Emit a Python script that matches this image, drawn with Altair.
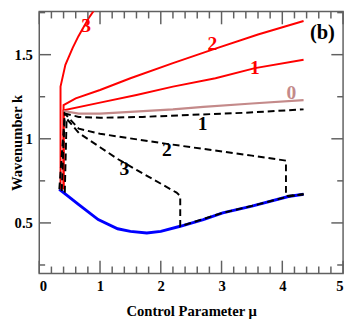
import altair as alt
import pandas as pd

# ---- data ----
blue_x = [0.33, 0.40, 0.645, 0.97, 1.29, 1.50, 1.77, 2.00, 2.32, 2.70, 3.02, 3.50, 4.10, 4.35]
blue_k = [0.70, 0.68, 0.61, 0.52, 0.465, 0.45, 0.44, 0.45, 0.48, 0.52, 0.56, 0.60, 0.657, 0.67]

red3_x = [0.35, 0.35, 0.43, 0.55, 0.645, 0.81, 0.97, 1.10]
red3_k = [0.70, 1.31, 1.44, 1.54, 1.61, 1.715, 1.80, 1.87]
red2_x = [0.40, 0.40, 0.60, 1.00, 1.50, 2.20, 2.85, 3.60, 4.35]
red2_k = [0.70, 1.20, 1.24, 1.29, 1.36, 1.45, 1.53, 1.62, 1.70]
red1_x = [0.40, 0.40, 1.00, 1.60, 2.20, 2.90, 3.55, 4.35]
red1_k = [0.70, 1.17, 1.215, 1.26, 1.31, 1.36, 1.42, 1.47]
brown0_x = [0.40, 0.65, 1.00, 1.50, 2.20, 2.70, 3.50, 4.35]
brown0_k = [1.165, 1.15, 1.15, 1.16, 1.175, 1.19, 1.21, 1.23]

dash1_x = [0.33, 0.42, 0.65, 1.00, 1.70, 2.70, 3.40, 4.35]
dash1_k = [0.70, 1.15, 1.13, 1.125, 1.13, 1.145, 1.155, 1.175]
dash2_x = [0.37, 0.42, 0.65, 1.00, 1.45, 2.10, 2.70, 3.50, 4.06, 4.06, 4.35]
dash2_k = [0.69, 1.15, 1.06, 1.03, 1.005, 0.97, 0.94, 0.90, 0.87, 0.66, 0.67]
dash3_x = [0.42, 0.45, 0.65, 1.00, 1.29, 1.60, 1.89, 2.26, 2.32, 2.32, 3.02, 3.60, 4.10, 4.35]
dash3_k = [0.68, 1.12, 1.035, 0.95, 0.88, 0.815, 0.756, 0.68, 0.66, 0.48, 0.56, 0.61, 0.657, 0.67]

label_text = ["3", "2", "1", "0", "1", "2", "3"]
label_x = [0.77, 2.85, 3.55, 4.15, 2.69, 2.10, 1.40]
label_k = [1.67, 1.56, 1.42, 1.27, 1.09, 0.93, 0.82]
label_color = ["#ff0000", "#ff0000", "#ff0000", "#c48a8a", "#000000", "#000000", "#000000"]
panel_text = ["(b)"]
panel_x = [4.66]
panel_k = [1.63]

x_major = [0, 1, 2, 3, 4, 5]
x_minor = [0.2, 0.4, 0.6, 0.8, 1.2, 1.4, 1.6, 1.8, 2.2, 2.4, 2.6, 2.8,
           3.2, 3.4, 3.6, 3.8, 4.2, 4.4, 4.6, 4.8]
y_major = [0.5, 1.0, 1.5]
y_minor = [0.25, 0.75, 1.25, 1.75]

W, H = 311, 268
FONT = "Liberation Serif"

xs = alt.Scale(domain=[0, 5], nice=False, zero=False)
ys = alt.Scale(domain=[0.2, 1.756], nice=False, zero=False)


def series(xv, kv):
    return pd.DataFrame({"x": xv, "k": kv, "i": list(range(len(xv)))})


def line(df, color, width, dash=None):
    kw = dict(color=color, strokeWidth=width, clip=True)
    if dash:
        kw["strokeDash"] = dash
    return alt.Chart(df).mark_line(**kw).encode(
        x=alt.X("x:Q", scale=xs,
                axis=alt.Axis(title="Control Parameter μ", values=x_major, format="d",
                              ticks=False, domain=False, grid=False, labelPadding=6,
                              labelFont=FONT, labelFontSize=15, labelFontWeight="bold",
                              labelColor="black", titleFont=FONT, titleFontSize=15,
                              titleFontWeight="bold", titleColor="black", titlePadding=10)),
        y=alt.Y("k:Q", scale=ys,
                axis=alt.Axis(title="Wavenumber k", values=y_major, format="~g",
                              ticks=False, domain=False, grid=False, labelPadding=7,
                              labelFont=FONT, labelFontSize=15, labelFontWeight="bold",
                              labelColor="black", titleFont=FONT, titleFontSize=15,
                              titleFontWeight="bold", titleColor="black",
                              titleX=-15, titleY=H / 2)),
        order="i:Q",
    )


blue = line(series(blue_x, blue_k), "#0000ff", 3)
red3 = line(series(red3_x, red3_k), "#ff0000", 2)
red2 = line(series(red2_x, red2_k), "#ff0000", 2)
red1 = line(series(red1_x, red1_k), "#ff0000", 2)
brown0 = line(series(brown0_x, brown0_k), "#c48a8a", 2.2)
d1 = line(series(dash1_x, dash1_k), "#000000", 2, [7, 4])
d2 = line(series(dash2_x, dash2_k), "#000000", 2, [7, 4])
d3 = line(series(dash3_x, dash3_k), "#000000", 2, [7, 4])

labels_df = pd.DataFrame({"t": label_text, "x": label_x, "k": label_k, "c": label_color})
labels = alt.Chart(labels_df).mark_text(font=FONT, fontWeight="bold", fontSize=20).encode(
    x=alt.X("x:Q", scale=xs), y=alt.Y("k:Q", scale=ys), text="t:N",
    color=alt.Color("c:N", scale=None))
panel_df = pd.DataFrame({"t": panel_text, "x": panel_x, "k": panel_k})
panel = alt.Chart(panel_df).mark_text(font=FONT, fontWeight="bold", fontSize=21,
                                      color="black").encode(
    x=alt.X("x:Q", scale=xs), y=alt.Y("k:Q", scale=ys), text="t:N")

TC = "#606060"


def xticks(vals, length):
    df = pd.DataFrame({"x": vals})
    b = alt.Chart(df).mark_rule(color=TC, strokeWidth=1.5).encode(
        x=alt.X("x:Q", scale=xs), y=alt.value(H), y2=alt.value(H - length))
    t = alt.Chart(df).mark_rule(color=TC, strokeWidth=1.5).encode(
        x=alt.X("x:Q", scale=xs), y=alt.value(0), y2=alt.value(length))
    return b + t


def yticks(vals, length):
    df = pd.DataFrame({"k": vals})
    l = alt.Chart(df).mark_rule(color=TC, strokeWidth=1.5).encode(
        y=alt.Y("k:Q", scale=ys), x=alt.value(0), x2=alt.value(length))
    r = alt.Chart(df).mark_rule(color=TC, strokeWidth=1.5).encode(
        y=alt.Y("k:Q", scale=ys), x=alt.value(W), x2=alt.value(W - length))
    return l + r


chart = alt.layer(
    blue, red3, red2, red1, brown0, d1, d2, d3, labels, panel,
    xticks(x_major, 13), xticks(x_minor, 7), yticks(y_major, 12), yticks(y_minor, 6),
).properties(
    width=W, height=H,
    autosize=alt.AutoSizeParams(type="none"),
    padding={"left": 32, "top": 0, "right": 3, "bottom": 43},
).configure_view(stroke=TC, strokeWidth=1.5)

chart.save("out.html", embed_options={"renderer": "svg", "actions": False})
